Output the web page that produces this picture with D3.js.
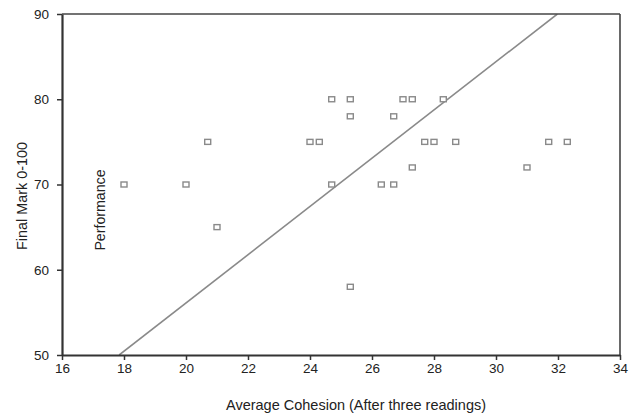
<!DOCTYPE html>
<html>
<head>
<meta charset="utf-8">
<script src="https://cdn.jsdelivr.net/npm/d3@7"></script>
<style>
  body { margin: 0; background: #fff; }
  svg text { font-family: "Liberation Sans", Arial, sans-serif; fill: #222; }
</style>
</head>
<body>
<div class="chart"></div>
<script>
var svgWidth = 631;
var svgHeight = 416;

var margin = { top: 14, right: 11, bottom: 61, left: 62 };

var width = svgWidth - margin.left - margin.right;
var height = svgHeight - margin.top - margin.bottom;

// data
var cohesion = [18, 20, 20.7, 21, 24, 24.3, 24.7, 24.7, 25.3, 25.3, 25.3, 26.3, 26.7, 26.7,
                27, 27.3, 27.3, 27.7, 28, 28.3, 28.7, 31, 31.7, 32.3];
var finalMark = [70, 70, 75, 65, 75, 75, 80, 70, 80, 78, 58, 70, 70, 78,
                 80, 80, 72, 75, 75, 80, 75, 72, 75, 75];
var xTicks = [16, 18, 20, 22, 24, 26, 28, 30, 32, 34];
var yTicks = [50, 60, 70, 80, 90];
var fitIntercept = -0.5;
var fitSlope = 2.83;

var svg = d3.select(".chart")
  .append("svg")
  .attr("width", svgWidth)
  .attr("height", svgHeight);

var chart = svg.append("g")
  .attr("transform", "translate(" + margin.left + "," + margin.top + ")");

var xLinearScale = d3.scaleLinear().domain([16, 34]).range([0, width]);
var yLinearScale = d3.scaleLinear().domain([50, 90]).range([height, 0]);

chart.append("clipPath").attr("id", "plotclip")
  .append("rect").attr("width", width).attr("height", height);

// fit line
var x0 = (50 - fitIntercept) / fitSlope;
var x1 = (90 - fitIntercept) / fitSlope;
chart.append("line")
  .attr("clip-path", "url(#plotclip)")
  .attr("x1", xLinearScale(x0)).attr("y1", yLinearScale(fitIntercept + fitSlope * x0))
  .attr("x2", xLinearScale(x1)).attr("y2", yLinearScale(fitIntercept + fitSlope * x1))
  .attr("stroke", "#8a8a8a")
  .attr("stroke-width", 1.6);

// points
chart.selectAll("rect.pt")
  .data(d3.range(cohesion.length))
  .enter().append("rect")
    .attr("class", "pt")
    .attr("x", function(i) { return xLinearScale(cohesion[i]) - 3; })
    .attr("y", function(i) { return yLinearScale(finalMark[i]) - 2.5; })
    .attr("width", 6)
    .attr("height", 5)
    .attr("fill", "#fff")
    .attr("stroke", "#8a8a8a")
    .attr("stroke-width", 1.4);

// frame top/right
chart.append("line")
  .attr("x1", 0).attr("x2", width).attr("y1", 0).attr("y2", 0)
  .attr("stroke", "#444").attr("stroke-width", 1.6);
chart.append("line")
  .attr("x1", width).attr("x2", width).attr("y1", 0).attr("y2", height)
  .attr("stroke", "#444").attr("stroke-width", 1.6);

// axes
var bottomAxis = d3.axisBottom(xLinearScale).tickValues(xTicks).tickSize(5).tickSizeOuter(0).tickPadding(3);
var leftAxis = d3.axisLeft(yLinearScale).tickValues(yTicks).tickSize(5).tickSizeOuter(0).tickPadding(8);

var gx = chart.append("g")
  .attr("transform", "translate(0," + height + ")")
  .call(bottomAxis);
var gy = chart.append("g").call(leftAxis);

[gx, gy].forEach(function(g) {
  g.select(".domain").attr("stroke", "#333").attr("stroke-width", 2.2);
  g.selectAll(".tick line").attr("stroke", "#333").attr("stroke-width", 1.5);
  g.selectAll(".tick text")
    .style("font-family", "'Liberation Sans', Arial, sans-serif")
    .style("font-size", "13.5px")
    .attr("fill", "#222");
});

// labels
svg.append("text")
  .attr("transform", "translate(356,410)")
  .attr("text-anchor", "middle")
  .style("font-size", "14.5px")
  .text("Average Cohesion (After three readings)");

svg.append("text")
  .attr("transform", "translate(27,196) rotate(-90)")
  .attr("text-anchor", "middle")
  .style("font-size", "14.4px")
  .text("Final Mark 0-100");

svg.append("text")
  .attr("transform", "translate(105,210) rotate(-90)")
  .attr("text-anchor", "middle")
  .style("font-size", "14.2px")
  .text("Performance");
</script>
</body>
</html>
